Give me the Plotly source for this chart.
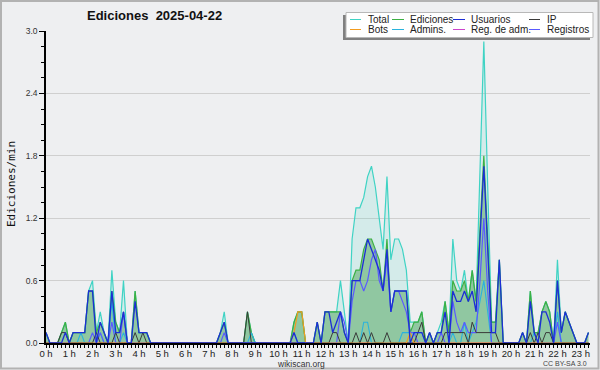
import plotly.graph_objects as go

# 10-minute bins, value = actions per minute
hours = [i / 6 for i in range(141)]

total = [
    .1, 0, 0, 0, .1, .2, 0, .1, .1, .1, .1, .5,
    .6, .1, .3, .1, 0, .7, .2, .1, .6, 0, 0, .5,
    .1, .1, .1, 0, 0, 0, 0, 0, 0, 0, 0, 0,
    0, 0, 0, 0, 0, 0, 0, 0, 0, .1, .3, 0,
    0, 0, 0, 0, .3, .1, 0, 0, 0, 0, 0, 0,
    0, 0, 0, 0, .2, .3, .3, 0, 0, 0, .2, 0,
    .3, .3, .3, .3, .6, .3, 0, 1.0, 1.3, 1.3, 1.4, 1.6,
    1.7, 1.5, 1.2, .9, 1.6, .8, 1.0, 1.0, .9, .7, .2, .2,
    .2, .3, 0, .1, 0, .1, .2, .4, .1, 1.0, .6, .5,
    .7, .4, .7, .4, 1.6, 2.9, 1.5, .2, .2, .8, 0, 0,
    0, 0, 0, .1, 0, .5, .1, .1, .3, .4, .3, 0,
    .8, .1, .3, .2, .1, 0, 0, 0, .1]

ediciones = [
    .1, 0, 0, 0, .1, .2, 0, .1, .1, .1, .1, .5,
    .5, .1, .2, .1, 0, .5, .2, .1, .3, 0, 0, .5,
    .1, .1, .1, 0, 0, 0, 0, 0, 0, 0, 0, 0,
    0, 0, 0, 0, 0, 0, 0, 0, 0, .1, .2, 0,
    0, 0, 0, 0, .3, .1, 0, 0, 0, 0, 0, 0,
    0, 0, 0, 0, .2, .3, .3, 0, 0, 0, .2, 0,
    .3, .3, .3, .3, .3, .1, 0, .6, .7, .7, .9, 1.0,
    1.0, .9, .8, .5, 1.0, .3, .5, .5, .5, .5, .1, .2,
    .2, .3, 0, .1, 0, .1, .1, .4, .1, .6, .5, .5,
    .6, .4, .7, .4, 1.1, 1.8, 1.0, .2, .2, .8, 0, 0,
    0, 0, 0, .1, 0, .5, .1, .1, .3, .4, .3, 0,
    .6, .1, .3, .2, .1, 0, 0, 0, .1]

usuarios = [
    .1, 0, 0, 0, 0, .1, 0, .1, .1, .1, .1, .5,
    .5, 0, .2, .1, 0, .5, .1, .1, .3, 0, 0, .4,
    .1, .1, .1, 0, 0, 0, 0, 0, 0, 0, 0, 0,
    0, 0, 0, 0, 0, 0, 0, 0, 0, .1, .2, 0,
    0, 0, 0, 0, 0, 0, 0, 0, 0, 0, 0, 0,
    0, 0, 0, 0, .1, 0, 0, 0, 0, 0, .2, 0,
    .3, .3, .1, .2, .3, .1, 0, .6, .6, .6, .8, 1.0,
    .9, .8, .7, .5, .9, .3, .5, .5, .5, .5, 0, .1,
    .1, .1, 0, .1, 0, .1, .1, .3, 0, .5, .4, .4,
    .5, .4, .5, .3, 1.0, 1.7, .9, .1, .1, .8, 0, 0,
    0, 0, 0, .1, 0, .4, .1, 0, .3, .3, .2, 0,
    .6, .1, .3, .2, .1, 0, 0, 0, .1]

ip = [
    0, 0, 0, 0, .1, .1, 0, 0, 0, 0, 0, 0,
    0, .1, 0, 0, 0, 0, .1, 0, 0, 0, 0, .1,
    0, .1, 0, 0, 0, 0, 0, 0, 0, 0, 0, 0,
    0, 0, 0, 0, 0, 0, 0, 0, 0, 0, 0, 0,
    0, 0, 0, 0, .3, 0, 0, 0, 0, 0, 0, 0,
    0, 0, 0, 0, 0, 0, 0, 0, 0, 0, 0, 0,
    0, 0, .1, .1, 0, 0, 0, 0, .1, 0, .1, 0,
    .1, 0, 0, 0, .1, 0, 0, 0, 0, 0, 0, 0,
    .1, .2, 0, 0, 0, 0, 0, .1, .1, .1, .1, .1,
    .1, 0, .2, .1, .1, .1, .1, .1, .1, 0, 0, 0,
    0, 0, 0, 0, 0, .1, 0, .1, 0, .1, .1, 0,
    0, 0, 0, 0, 0, 0, 0, 0, 0]

bots = [
    0, 0, 0, 0, 0, 0, 0, 0, 0, 0, 0, 0,
    0, 0, 0, 0, 0, 0, 0, 0, 0, 0, 0, 0,
    0, 0, 0, 0, 0, 0, 0, 0, 0, 0, 0, 0,
    0, 0, 0, 0, 0, 0, 0, 0, 0, 0, 0, 0,
    0, 0, 0, 0, 0, 0, 0, 0, 0, 0, 0, 0,
    0, 0, 0, 0, .1, .3, .3, 0, 0, 0, 0, 0,
    0, 0, 0, 0, 0, 0, 0, 0, 0, 0, 0, 0,
    0, 0, 0, 0, 0, 0, 0, 0, 0, 0, .1, 0,
    0, 0, 0, 0, 0, 0, 0, 0, 0, 0, 0, 0,
    0, 0, 0, 0, 0, 0, 0, 0, 0, 0, 0, 0,
    0, 0, 0, 0, 0, 0, 0, 0, 0, 0, 0, 0,
    0, 0, 0, 0, 0, 0, 0, 0, 0]

admins = [
    0, 0, 0, 0, 0, 0, 0, 0, 0, .1, 0, 0,
    0, 0, .1, 0, 0, .4, 0, 0, .1, 0, 0, 0,
    0, 0, 0, 0, 0, 0, 0, 0, 0, 0, 0, 0,
    0, 0, 0, 0, 0, 0, 0, 0, 0, 0, 0, 0,
    0, 0, 0, 0, 0, .1, 0, 0, 0, 0, 0, 0,
    0, 0, 0, 0, .1, 0, 0, 0, 0, 0, 0, 0,
    0, 0, 0, 0, 0, 0, 0, 0, 0, 0, .2, .2,
    0, 0, 0, 0, 0, 0, 0, 0, .1, .1, .1, .1,
    .1, .1, 0, 0, 0, 0, 0, 0, 0, .1, 0, 0,
    .2, 0, .1, .2, .4, .6, .3, 0, 0, 0, 0, 0,
    0, 0, 0, 0, 0, 0, .1, 0, 0, 0, 0, 0,
    .3, 0, 0, 0, 0, 0, 0, 0, 0]

reg_adm = [0] * 141

registros = [
    0, 0, 0, 0, 0, 0, 0, 0, 0, 0, 0, 0,
    .1, 0, .1, 0, 0, .2, 0, 0, .3, 0, 0, 0,
    0, 0, 0, 0, 0, 0, 0, 0, 0, 0, 0, 0,
    0, 0, 0, 0, 0, 0, 0, 0, 0, 0, .1, 0,
    0, 0, 0, 0, 0, 0, 0, 0, 0, 0, 0, 0,
    0, 0, 0, 0, 0, 0, 0, 0, 0, 0, 0, 0,
    0, 0, 0, 0, .3, .2, 0, .4, .6, .6, .5, .6,
    .8, .9, .6, .5, .8, .3, .5, .5, .4, .3, .1, .1,
    0, 0, 0, 0, 0, 0, .1, 0, 0, .4, .2, .1,
    .2, .1, .1, .1, .6, 1.2, .5, 0, 0, 0, 0, 0,
    0, 0, 0, 0, 0, 0, 0, 0, 0, 0, 0, 0,
    .2, 0, 0, 0, 0, 0, 0, 0, 0]

legend_names = ["Total", "Ediciones", "Usuarios", "IP",
                "Bots", "Admins.", "Reg. de adm.", "Registros"]
hour_labels = [f"{h} h" for h in range(24)]
y_ticks = [0, 0.6, 1.2, 1.8, 2.4, 3.0]

C_TOTAL = "#3fd3c4"
C_ED = "#3cb043"
C_USU = "#1c2ed6"
C_IP = "#3a3a3a"
C_BOTS = "#f39c1f"
C_ADM = "#2ab3dd"
C_REGADM = "#cc44cc"
C_REG = "#5a5aff"
colors = [C_TOTAL, C_ED, C_USU, C_IP, C_BOTS, C_ADM, C_REGADM, C_REG]

BG = "#eeeff1"
W, H = 600, 370
L, R, T, B = 46, 10, 31, 27
PW, PH = W - L - R, H - T - B

fig = go.Figure()
fig.add_trace(go.Scatter(x=hours, y=total, name="Total", mode="lines",
                         line=dict(color=C_TOTAL, width=1.2),
                         fill="tozeroy", fillcolor="rgba(64,214,196,0.15)"))
fig.add_trace(go.Scatter(x=hours, y=ediciones, name="Ediciones", mode="lines",
                         line=dict(color=C_ED, width=1.2),
                         fill="tozeroy", fillcolor="rgba(50,150,60,0.42)"))
fig.add_trace(go.Scatter(x=hours, y=reg_adm, name="Reg. de adm.", mode="lines",
                         line=dict(color=C_REGADM, width=1)))
fig.add_trace(go.Scatter(x=hours, y=admins, name="Admins.", mode="lines",
                         line=dict(color=C_ADM, width=1.1)))
fig.add_trace(go.Scatter(x=hours, y=registros, name="Registros", mode="lines",
                         line=dict(color=C_REG, width=1.2)))
fig.add_trace(go.Scatter(x=hours, y=ip, name="IP", mode="lines",
                         line=dict(color=C_IP, width=1)))
fig.add_trace(go.Scatter(x=hours, y=bots, name="Bots", mode="lines",
                         line=dict(color=C_BOTS, width=1.2)))
fig.add_trace(go.Scatter(x=hours, y=usuarios, name="Usuarios", mode="lines",
                         line=dict(color=C_USU, width=1.3)))


def px(X):
    return (X - L) / PW


def py(Y):
    return (H - B - Y) / PH


shapes = []
annotations = []

# outer frame
shapes.append(dict(type="rect", xref="paper", yref="paper",
                   x0=px(1), x1=px(598.5), y0=py(368.5), y1=py(1),
                   line=dict(color="#b2b2b2", width=2), layer="below"))

# legend: shadow, box, samples, labels
shapes.append(dict(type="rect", xref="paper", yref="paper",
                   x0=px(343), x1=px(590), y0=py(40), y1=py(15),
                   line=dict(width=0), fillcolor="#808080"))
shapes.append(dict(type="rect", xref="paper", yref="paper",
                   x0=px(346), x1=px(593), y0=py(37.5), y1=py(12.5),
                   line=dict(color="#b8b8b8", width=1), fillcolor="white"))
col_line = [(350, 361), (392, 404), (453, 465), (529, 540)]
col_text = [366, 408, 469, 545]
row_y = [19.5, 29.5]
for k, name in enumerate(legend_names):
    r, c = divmod(k, 4)
    shapes.append(dict(type="line", xref="paper", yref="paper",
                       x0=px(col_line[c][0]), x1=px(col_line[c][1]),
                       y0=py(row_y[r]), y1=py(row_y[r]),
                       line=dict(color=colors[k], width=1)))
    annotations.append(dict(text=name, xref="paper", yref="paper",
                            x=px(col_text[c]), y=py(row_y[r]),
                            xanchor="left", yanchor="middle", showarrow=False,
                            font=dict(family="Liberation Sans", size=10, color="#222")))

# title
annotations.append(dict(text="<b>Ediciones  2025-04-22</b>", xref="paper", yref="paper",
                        x=px(154), y=py(16), xanchor="center", yanchor="middle",
                        showarrow=False,
                        font=dict(family="Liberation Sans", size=13, color="#111")))
# y axis title
annotations.append(dict(text="Ediciones/min", xref="paper", yref="paper",
                        x=px(11), y=py(184), xanchor="center", yanchor="middle",
                        textangle=-90, showarrow=False,
                        font=dict(family="DejaVu Sans Mono", size=11, color="#111")))
# footer
annotations.append(dict(text="wikiscan.org", xref="paper", yref="paper",
                        x=px(300.5), y=py(363.5), xanchor="center", yanchor="middle",
                        showarrow=False,
                        font=dict(family="Liberation Sans", size=8.5, color="#333")))
annotations.append(dict(text="CC BY-SA 3.0", xref="paper", yref="paper",
                        x=px(589), y=py(363), xanchor="right", yanchor="middle",
                        showarrow=False,
                        font=dict(family="Liberation Sans", size=7, color="#444")))

fig.update_layout(
    width=W, height=H,
    margin=dict(l=L, r=R, t=T, b=B, pad=0),
    paper_bgcolor=BG, plot_bgcolor=BG,
    showlegend=False,
    shapes=shapes, annotations=annotations,
    xaxis=dict(range=[0, 23.4], tickvals=list(range(24)), ticktext=hour_labels,
               ticks="outside", ticklen=3, tickcolor="#000", tickwidth=1,
               ticklabelstandoff=-2,
               minor=dict(dtick=1 / 6, tick0=0, ticks="outside", ticklen=3,
                          tickcolor="#000", tickwidth=1),
               showgrid=False, zeroline=False, showline=True,
               linecolor="#000", linewidth=1.5,
               tickfont=dict(family="Liberation Sans", size=9.5, color="#222")),
    yaxis=dict(range=[0, 3.0], tickvals=y_ticks, tickformat=".1f",
               ticks="outside", ticklen=5, tickcolor="#000", tickwidth=1,
               minor=dict(dtick=0.15, tick0=0, ticks="outside", ticklen=3,
                          tickcolor="#000", tickwidth=1, showgrid=False),
               showgrid=True, gridcolor="#cfcfcf", gridwidth=1,
               zeroline=False, showline=True, linecolor="#000", linewidth=1.5,
               tickfont=dict(family="Liberation Sans", size=8.5, color="#333")),
)

fig.write_html("out.html",
               config={"displayModeBar": False},
               post_script="document.body.style.margin='0px';"
                           "document.body.style.overflow='hidden';")
